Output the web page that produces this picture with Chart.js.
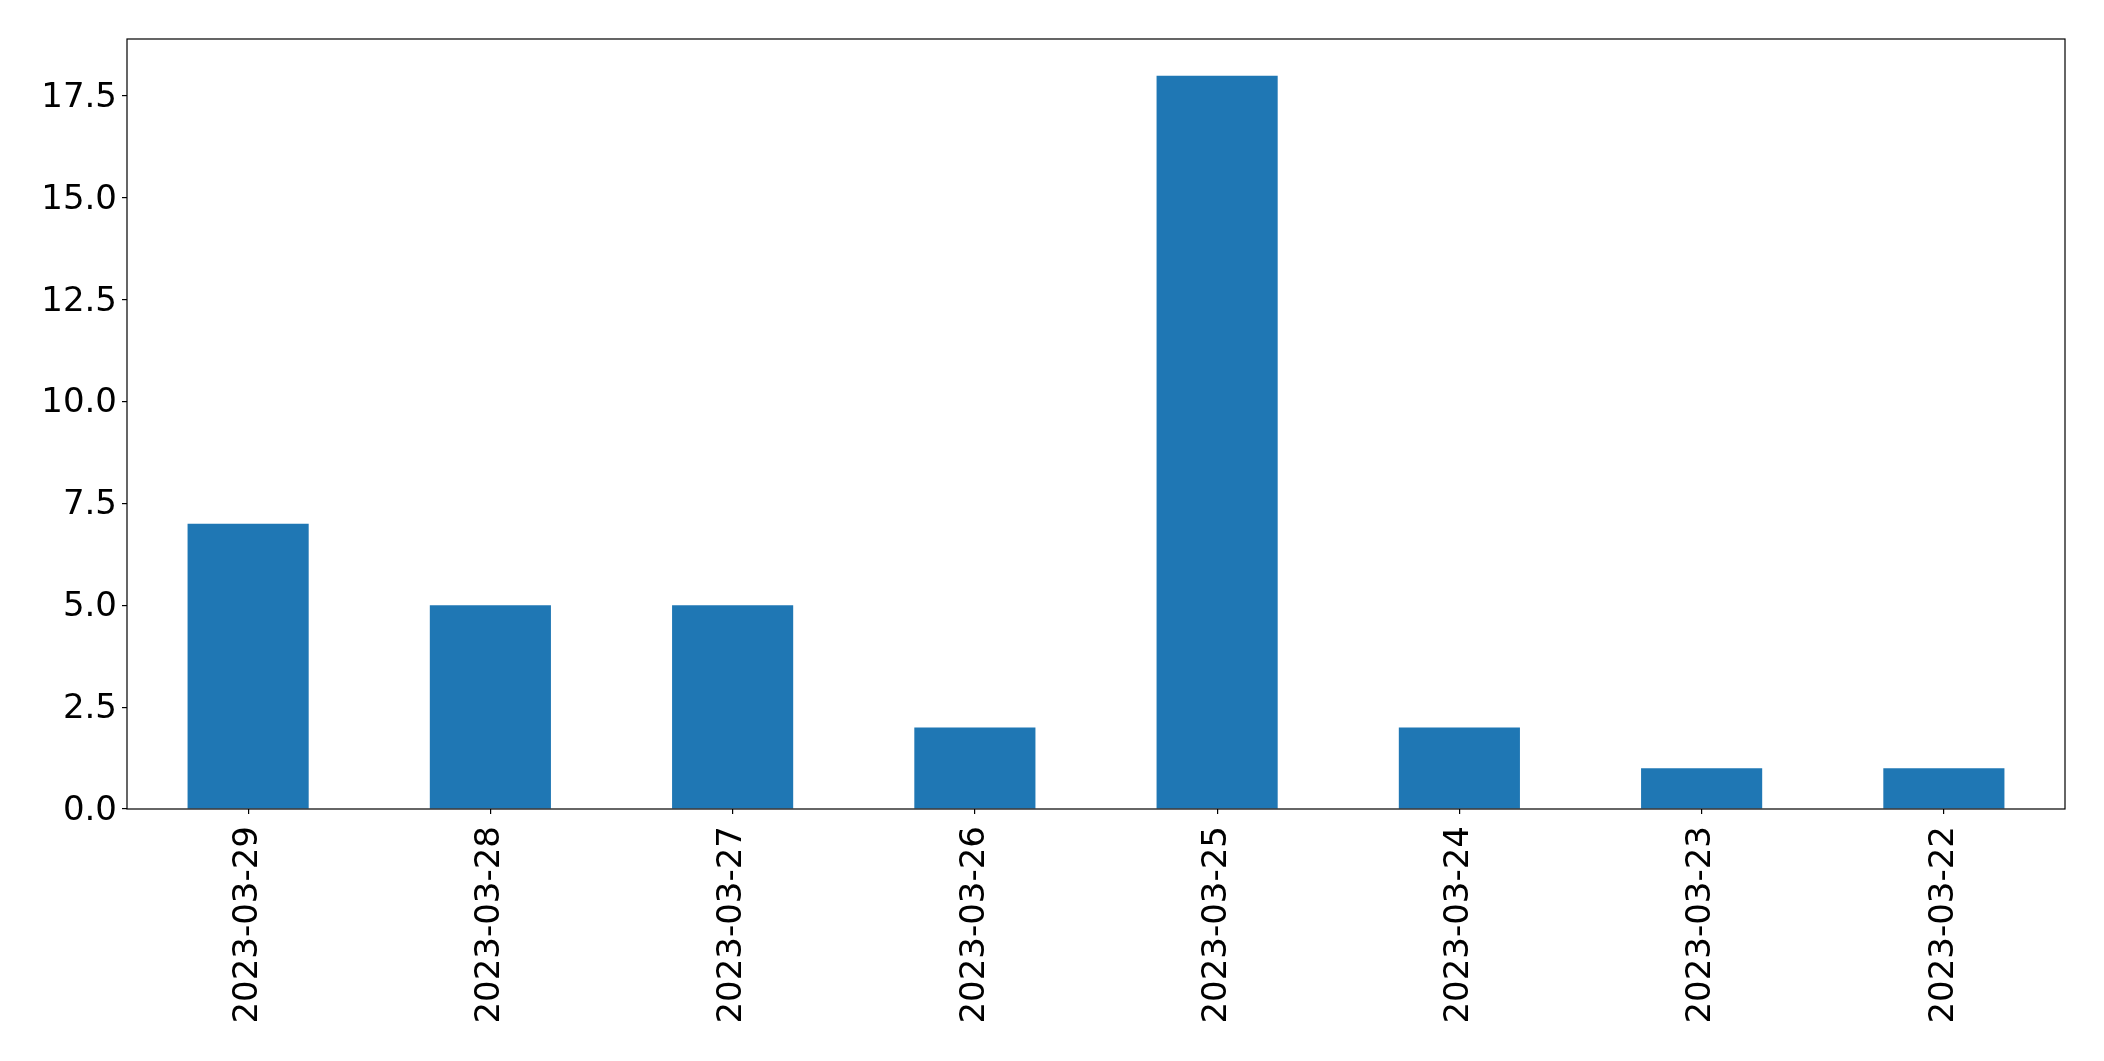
<!DOCTYPE html>
<html>
<head>
<meta charset="utf-8">
<script src="https://cdn.jsdelivr.net/npm/chart.js@4/dist/chart.umd.min.js"></script>
<style>
  html, body { margin: 0; padding: 0; background: #fff; }
  canvas { display: block; }
</style>
</head>
<body>
<canvas id="dayChart" width="2104" height="1061"></canvas>
<script>
'use strict';
const days = ['2023-03-29', '2023-03-28', '2023-03-27', '2023-03-26', '2023-03-25', '2023-03-24', '2023-03-23', '2023-03-22'];
const counts = [7, 5, 5, 2, 18, 2, 1, 1];
const yMax = 18.9;
const yStep = 2.5;

const fontSpec = { family: 'DejaVu Sans', size: 34 };

// matplotlib style box around the plot area
const frame = {
    id: 'frame',
    afterDraw(chart) {
        const a = chart.chartArea;
        const ctx = chart.ctx;
        ctx.save();
        ctx.strokeStyle = '#000';
        ctx.lineWidth = 1.2;
        ctx.strokeRect(a.left, a.top, a.right - a.left, a.bottom - a.top);
        ctx.restore();
    }
};

const loadChart = function () {
    const ctx = document.getElementById('dayChart').getContext('2d');
    new Chart(ctx, {
        type: 'bar',
        data: {
            labels: days,
            datasets: [{
                data: counts,
                backgroundColor: '#1f77b4',
                borderWidth: 0,
                categoryPercentage: 1,
                barPercentage: 0.5
            }]
        },
        options: {
            responsive: false,
            animation: false,
            layout: { padding: { left: 0, top: 39, right: 39, bottom: 0 } },
            plugins: { legend: { display: false }, tooltip: { enabled: false } },
            scales: {
                x: {
                    offset: true,
                    grid: { display: true, offset: false, drawOnChartArea: false, drawTicks: true, tickLength: 5, color: '#000', lineWidth: 1.2 },
                    border: { display: false },
                    ticks: { color: '#000', font: fontSpec, minRotation: 90, maxRotation: 90, padding: 12, autoSkip: false },
                    afterFit: function (scale) { scale.height = 252; }
                },
                y: {
                    min: 0,
                    max: yMax,
                    grid: { display: true, drawOnChartArea: false, drawTicks: true, tickLength: 5, color: '#000', lineWidth: 1.2 },
                    border: { display: false },
                    ticks: {
                        color: '#000', font: fontSpec, stepSize: yStep, includeBounds: false, padding: 5, labelOffset: 2,
                        callback: function (v) { return v.toFixed(1); }
                    },
                    afterFit: function (scale) { scale.width = 127; }
                }
            }
        },
        plugins: [frame]
    });
};

document.addEventListener('DOMContentLoaded', function () {
    loadChart();
});
</script>
</body>
</html>
